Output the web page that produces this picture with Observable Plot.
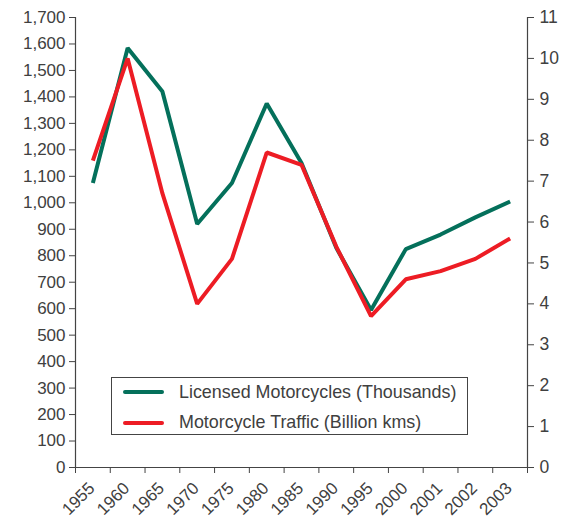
<!DOCTYPE html>
<html><head><meta charset="utf-8">
<script src="https://cdn.jsdelivr.net/npm/d3@7"></script>
<script src="https://cdn.jsdelivr.net/npm/@observablehq/plot@0.6"></script>
<style>
body{margin:0;background:#fff;}
#wrap{position:relative;width:570px;height:519px;font-family:"Liberation Sans",Arial,sans-serif;color:#404040;}
#legend{position:absolute;left:111px;top:377px;width:357px;height:58px;border:1px solid #444;box-sizing:border-box;background:#fff;}
.row{position:absolute;left:0;height:20px;display:flex;align-items:center;font-size:17.9px;white-space:nowrap;}
.sw{display:inline-block;width:41px;height:4px;border-radius:2px;margin-left:11px;margin-right:15px;}
</style></head><body><div id="wrap"></div>
<script>
const years = ["1955","1960","1965","1970","1975","1980","1985","1990","1995","2000","2001","2002","2003"];
const licensed = [1075,1585,1420,920,1075,1375,1150,830,595,825,880,945,1005];
const traffic = [7.5,10.0,6.7,4.0,5.1,7.7,7.4,5.4,3.7,4.6,4.8,5.1,5.6];
const leftTicks = d3.range(0, 1701, 100);
const rightTicks = d3.range(0, 12);
const seriesNames = ["Licensed Motorcycles (Thousands)", "Motorcycle Traffic (Billion kms)"];
const colors = ["#04705b", "#ed1c24"];

const leftMax = 1700, rightMax = 11;
const k = leftMax / rightMax;
const n = years.length;
const data = [
  ...years.map((yr, i) => ({i, yr, s: seriesNames[0], v: licensed[i]})),
  ...years.map((yr, i) => ({i, yr, s: seriesNames[1], v: traffic[i] * k}))
];
const axisColor = "#444";
const textColor = "#404040";

const chart = Plot.plot({
  width: 570, height: 519,
  marginLeft: 75, marginRight: 43, marginTop: 17, marginBottom: 52,
  x: {type: "linear", domain: [0, n], axis: null},
  y: {domain: [0, leftMax], axis: null},
  color: {domain: seriesNames, range: colors},
  style: {fontFamily: "'Liberation Sans', Arial, sans-serif", fontSize: "17px", color: textColor, background: "#fff"},
  marks: [
    Plot.ruleX([0, n], {y1: 0, y2: leftMax, stroke: axisColor, strokeWidth: 1.2}),
    Plot.ruleY([0], {x1: 0, x2: n, stroke: axisColor, strokeWidth: 1.2}),
    Plot.axisY(leftTicks, {anchor: "left", label: null, tickSize: 6, tickPadding: 4, tickFormat: d3.format(","), stroke: axisColor, fontSize: 17}),
    Plot.axisY(rightTicks.map(t => t * k), {anchor: "right", label: null, tickSize: 6, tickPadding: 6, tickFormat: d => String(Math.round(d / k)), stroke: axisColor, fontSize: 17.5}),
    Plot.axisX(d3.range(n + 1), {anchor: "bottom", label: null, tickSize: 6, tickFormat: () => "", stroke: axisColor}),
    Plot.text(years, {x: (d, i) => i + 0.5, y: () => 0, text: d => d, rotate: -45, textAnchor: "end", dy: 18, dx: -1, fontSize: 17, fill: textColor}),
    Plot.line(data, {x: d => d.i + 0.5, y: "v", z: "s", stroke: "s", strokeWidth: 4, strokeLinejoin: "miter", strokeLinecap: "butt"})
  ]
});
const wrap = document.getElementById("wrap");
wrap.appendChild(chart);
const legend = document.createElement("div");
legend.id = "legend";
seriesNames.forEach((name, j) => {
  const row = document.createElement("div");
  row.className = "row";
  row.style.top = (4 + j * 30.5) + "px";
  const sw = document.createElement("span");
  sw.className = "sw";
  sw.style.background = colors[j];
  row.appendChild(sw);
  row.appendChild(document.createTextNode(name));
  legend.appendChild(row);
});
wrap.appendChild(legend);
</script>
</body></html>
